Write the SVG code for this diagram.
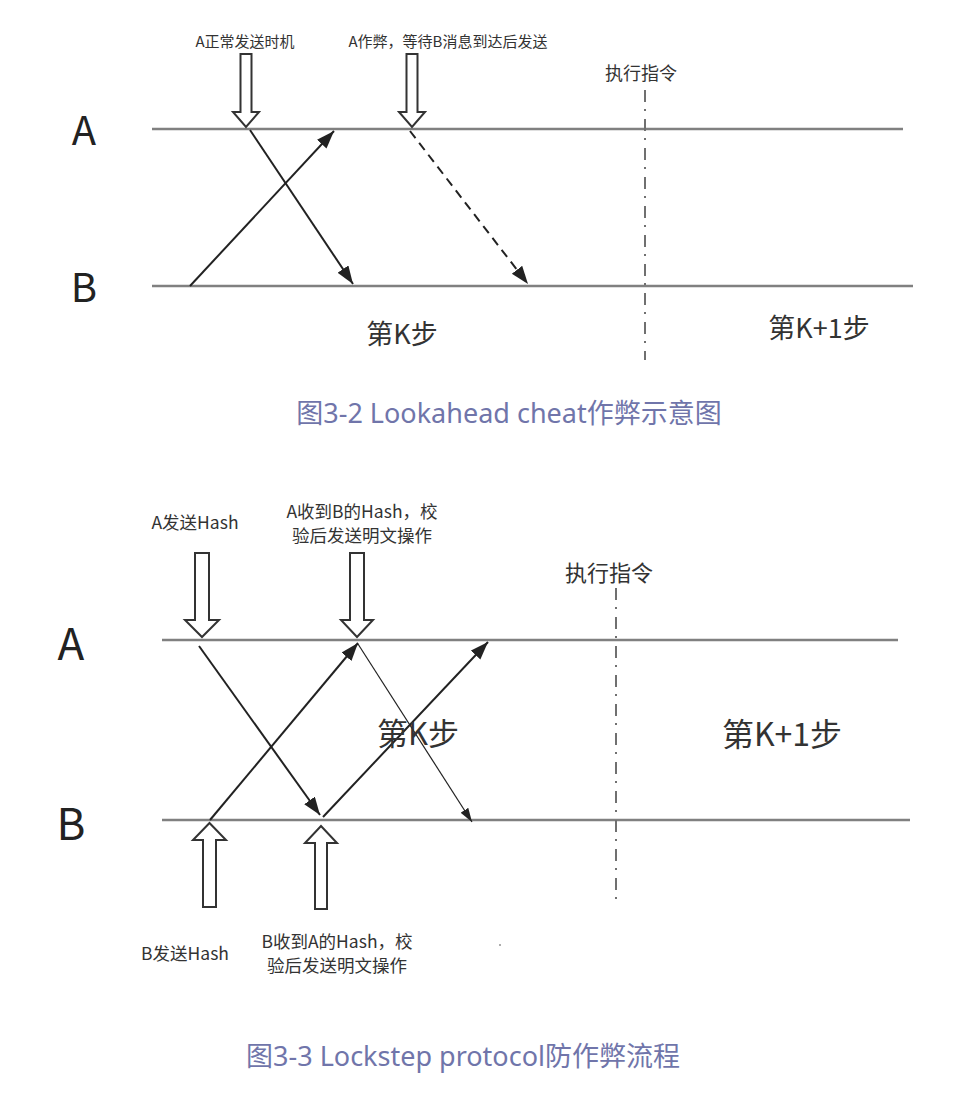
<svg xmlns="http://www.w3.org/2000/svg" width="959" height="1102" viewBox="0 0 959 1102">
<style>
text{font-family:"Noto Sans CJK SC","Noto Sans",sans-serif;fill:#333;text-anchor:middle}
.lane{stroke:#808080;stroke-width:2.5;fill:none}
.big{font-size:42px;fill:#222}
.lbl{font-size:15px}
.lbl2{font-size:17.5px}
.step{font-size:27px}
.step2{font-size:31px}
.cap{fill:#7075aa;font-family:"Noto Sans","Noto Sans CJK SC",sans-serif;font-size:27px}
.hollow{fill:#fff;stroke:#333;stroke-width:2;stroke-linejoin:miter}
.msg{stroke:#222;stroke-width:2;fill:none;marker-end:url(#ah)}
.thin{stroke:#222;stroke-width:1.2;fill:none;marker-end:url(#ahs)}
.dd{stroke:#707070;stroke-width:2;fill:none;stroke-dasharray:12 7 2 8}
</style>
<defs>
<marker id="ah" markerUnits="userSpaceOnUse" markerWidth="20" markerHeight="14" refX="18" refY="6.5" orient="auto">
<path d="M0,0 L18,6.5 L0,13 Z" fill="#222"/>
</marker>
<marker id="ahs" markerUnits="userSpaceOnUse" markerWidth="16" markerHeight="10" refX="14" refY="4.5" orient="auto">
<path d="M0,0 L14,4.5 L0,9 Z" fill="#222"/>
</marker>
</defs>

<!-- Figure 3-2 -->
<g id="fig32-laneA"><line class="lane" x1="152" y1="129" x2="903" y2="129"/><text class="big" x="84" y="145" style="font-size:40px">A</text></g>
<g id="fig32-laneB"><line class="lane" x1="152" y1="286" x2="913" y2="286"/><text class="big" x="84" y="302" style="font-size:40px">B</text></g>
<g id="fig32-normal"><path class="hollow" d="M240.5,54 H251.5 V112 H259 L246,127 L233,112 H240.5 Z"/><text class="lbl" x="245" y="47">A正常发送时机</text></g>
<g id="fig32-cheat"><path class="hollow" d="M406.5,54 H417.5 V112 H425 L412,127 L399,112 H406.5 Z"/><text class="lbl" x="448" y="47">A作弊，等待B消息到达后发送</text></g>
<g id="fig32-exec"><text x="641" y="80" style="font-size:18px">执行指令</text><line class="dd" x1="645" y1="90" x2="645" y2="360"/></g>
<g id="fig32-connectors">
<line class="msg" x1="250" y1="130" x2="353" y2="284"/>
<line class="msg" x1="190" y1="286" x2="334" y2="131"/>
<line class="msg" x1="410" y1="131" x2="528" y2="284" stroke-dasharray="9 6"/>
</g>
<g id="fig32-steps"><text class="step" x="402" y="344">第K步</text><text class="step" x="819" y="338">第K+1步</text></g>
<text class="cap" x="509" y="423">图3-2 Lookahead cheat作弊示意图</text>

<!-- Figure 3-3 -->
<g id="fig33-laneA"><line class="lane" x1="162" y1="640" x2="898" y2="640"/><text class="big" x="71" y="660" style="font-size:44px">A</text></g>
<g id="fig33-laneB"><line class="lane" x1="162" y1="820" x2="910" y2="820"/><text class="big" x="71" y="840" style="font-size:44px">B</text></g>
<g id="fig33-Ahash"><path class="hollow" d="M195,553 H209 V620 H219 L202,637 L185,620 H195 Z"/><text class="lbl2" x="195" y="529">A发送Hash</text></g>
<g id="fig33-Aplain"><path class="hollow" d="M350,553 H364 V620 H373 L357,637 L341,620 H350 Z"/><text class="lbl2" x="362" y="518">A收到B的Hash，校</text><text class="lbl2" x="362" y="542">验后发送明文操作</text></g>
<g id="fig33-Bhash"><path class="hollow" d="M203,907 H216 V840 H226 L209.5,823 L193,840 H203 Z"/><text class="lbl2" x="185" y="960">B发送Hash</text></g>
<g id="fig33-Bplain"><path class="hollow" d="M315,909 H327 V843 H337 L321,826 L305,843 H315 Z"/><text class="lbl2" x="337" y="948">B收到A的Hash，校</text><text class="lbl2" x="337" y="972">验后发送明文操作</text></g>
<g id="fig33-exec"><text x="609" y="581" style="font-size:22px">执行指令</text><line class="dd" x1="616" y1="588" x2="616" y2="902"/></g>
<g id="fig33-connectors">
<line class="msg" x1="199" y1="646" x2="320" y2="815"/>
<line class="msg" x1="210" y1="820" x2="358" y2="643"/>
<line class="msg" x1="323" y1="817" x2="488" y2="642"/>
<line class="thin" x1="358" y1="644" x2="472" y2="822"/>
</g>
<g id="fig33-steps"><text class="step2" x="418" y="745">第K步</text><text class="step2" x="782" y="746" style="font-size:32px">第K+1步</text></g>
<circle cx="500" cy="945" r="0.8" fill="#444"/>
<text class="cap" x="463" y="1066">图3-3 Lockstep protocol防作弊流程</text>
</svg>
